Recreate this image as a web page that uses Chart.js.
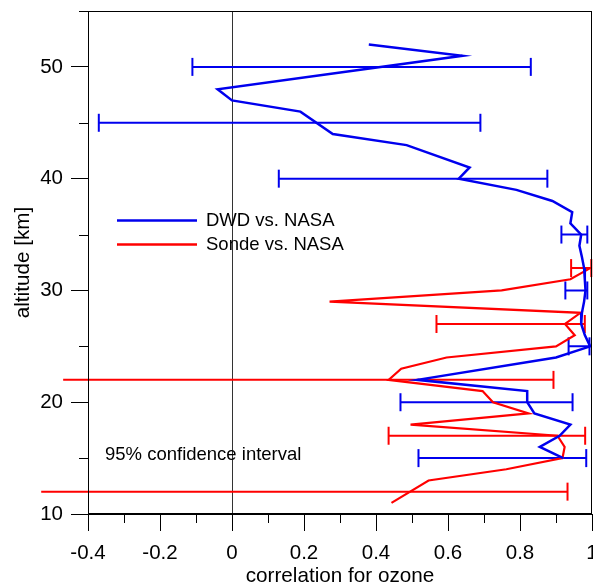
<!DOCTYPE html>
<html>
<head>
<meta charset="utf-8">
<script src="https://cdn.jsdelivr.net/npm/chart.js@4"></script>
<style>
  html, body { margin: 0; padding: 0; background: #fff; }
</style>
</head>
<body>
<canvas id="ozone" width="593" height="584"></canvas>
<script>
// DWD vs. NASA profile: altitude [km] and correlation
const dwdAlt  = [52, 51, 48, 47, 46, 44, 43, 41, 40, 39, 38, 37, 36, 35, 34, 33, 32, 31, 30, 29, 28, 27, 26, 25, 24, 22, 21, 20, 19, 18, 17, 16, 15];
const dwdCorr = [0.38, 0.64, -0.04, 0.0, 0.19, 0.28, 0.485, 0.66, 0.63, 0.79, 0.89, 0.945, 0.94, 0.97, 0.965, 0.972, 0.978, 0.98, 0.982, 0.978, 0.972, 0.97, 0.98, 0.995, 0.9, 0.515, 0.82, 0.82, 0.84, 0.94, 0.91, 0.855, 0.92];

// Sonde vs. NASA profile
const sondeAlt  = [11, 13, 14, 15, 16, 17, 18, 19, 20, 21, 22, 23, 24, 25, 26, 27, 28, 29, 30, 31, 32];
const sondeCorr = [0.443, 0.546, 0.762, 0.918, 0.924, 0.904, 0.496, 0.824, 0.725, 0.696, 0.435, 0.47, 0.596, 0.90, 0.952, 0.925, 0.968, 0.271, 0.749, 0.94, 0.995];

// 95% confidence intervals
const dwdErrAlt = [50, 45, 40, 35, 30, 25, 20, 15];
const dwdErrLo  = [-0.11, -0.37, 0.13, 0.915, 0.926, 0.935, 0.468, 0.518];
const dwdErrHi  = [0.83, 0.69, 0.876, 0.987, 0.987, 0.993, 0.946, 0.984];

const sondeErrAlt = [32, 27, 22, 17, 12];
const sondeErrLo  = [0.942, 0.568, -0.469, 0.435, -0.53];
const sondeErrHi  = [0.998, 0.98, 0.893, 0.981, 0.932];

const BLUE = '#0000ee';
const RED = '#ff0000';
const FONT = '"Liberation Sans", Arial, sans-serif';

function profile(alt, corr) {
  return alt.map((a, i) => ({ x: corr[i], y: a }));
}

// lo/hi pairs, broken apart by NaN points so each interval is its own segment
function intervals(alt, lo, hi) {
  const pts = [];
  alt.forEach((a, i) => {
    pts.push({ x: lo[i], y: a }, { x: hi[i], y: a }, { x: NaN, y: NaN });
  });
  return pts;
}

const isMajor = v => Math.round(v * 10) % 2 === 0;

const extras = {
  id: 'extras',
  afterDraw(chart) {
    const { ctx, chartArea: a, scales: { x, y } } = chart;
    ctx.save();
    ctx.strokeStyle = '#000';
    ctx.lineWidth = 1;
    ctx.strokeRect(a.left + 0.5, a.top + 0.5, a.right - a.left - 1, a.bottom - a.top - 1);

    // minor ticks
    ctx.beginPath();
    x.ticks.forEach(t => {
      if (isMajor(t.value)) return;
      const px = Math.round(x.getPixelForValue(t.value)) + 0.5;
      ctx.moveTo(px, a.bottom);
      ctx.lineTo(px, a.bottom + 9);
    });
    y.ticks.forEach(t => {
      if (t.value % 10 === 0) return;
      const py = Math.round(y.getPixelForValue(t.value)) + 0.5;
      ctx.moveTo(a.left - 9, py);
      ctx.lineTo(a.left, py);
    });
    ctx.stroke();

    // legend
    ctx.lineWidth = 2.5;
    ctx.strokeStyle = BLUE;
    ctx.beginPath();
    ctx.moveTo(117, 220.5); ctx.lineTo(197, 220.5);
    ctx.stroke();
    ctx.strokeStyle = RED;
    ctx.beginPath();
    ctx.moveTo(117, 244.5); ctx.lineTo(197, 244.5);
    ctx.stroke();

    ctx.fillStyle = '#000';
    ctx.font = '18.5px ' + FONT;
    ctx.textBaseline = 'middle';
    ctx.textAlign = 'left';
    ctx.fillText('DWD vs. NASA', 206, 221);
    ctx.fillText('Sonde vs. NASA', 206, 245);
    ctx.fillText('95% confidence interval', 105, 455);
    ctx.restore();
  }
};

new Chart(document.getElementById('ozone'), {
  type: 'scatter',
  data: {
    datasets: [{
      label: 'DWD vs. NASA',
      data: profile(dwdAlt, dwdCorr),
      showLine: true,
      borderColor: BLUE,
      borderWidth: 2.5,
      pointRadius: 0,
      clip: false
    }, {
      label: 'Sonde vs. NASA',
      data: profile(sondeAlt, sondeCorr),
      showLine: true,
      borderColor: RED,
      borderWidth: 2.2,
      pointRadius: 0,
      clip: false
    }, {
      label: 'DWD 95%',
      data: intervals(dwdErrAlt, dwdErrLo, dwdErrHi),
      showLine: true,
      spanGaps: false,
      borderColor: BLUE,
      borderWidth: 2,
      pointStyle: 'line',
      rotation: 90,
      pointRadius: 9,
      pointBorderWidth: 2,
      pointBorderColor: BLUE,
      clip: false
    }, {
      label: 'Sonde 95%',
      data: intervals(sondeErrAlt, sondeErrLo, sondeErrHi),
      showLine: true,
      spanGaps: false,
      borderColor: RED,
      borderWidth: 2,
      pointStyle: 'line',
      rotation: 90,
      pointRadius: 9,
      pointBorderWidth: 2,
      pointBorderColor: RED,
      clip: false
    }]
  },
  options: {
    responsive: false,
    animation: false,
    devicePixelRatio: 1,
    layout: { autoPadding: false, padding: { top: 11, right: 1, left: 0, bottom: 0 } },
    plugins: {
      legend: { display: false },
      tooltip: { enabled: false }
    },
    scales: {
      x: {
        type: 'linear',
        min: -0.4,
        max: 1,
        ticks: {
          stepSize: 0.1,
          autoSkip: false,
          maxRotation: 0,
          padding: 10,
          color: '#000',
          font: { family: FONT, size: 20.5 },
          callback: v => isMajor(v) ? String(+v.toFixed(1)) : ''
        },
        grid: {
          color: c => (c.tick && Math.abs(c.tick.value) < 1e-9) ? '#333' : 'rgba(0,0,0,0)',
          tickColor: c => (c.tick && isMajor(c.tick.value)) ? '#000' : 'rgba(0,0,0,0)',
          tickLength: 17
        },
        border: { display: true, color: '#000' },
        title: {
          display: true,
          text: 'correlation for ozone',
          color: '#000',
          font: { family: FONT, size: 20.7 },
          padding: { top: 0, bottom: -5 }
        },
        afterFit: s => { s.height = 70; s.paddingLeft = 0; s.paddingRight = 0; }
      },
      y: {
        type: 'linear',
        min: 10,
        max: 55,
        ticks: {
          stepSize: 5,
          autoSkip: false,
          padding: 8,
          color: '#000',
          font: { family: FONT, size: 20.5 },
          callback: v => v % 10 === 0 ? String(v) : ''
        },
        grid: {
          drawOnChartArea: false,
          tickColor: c => (c.tick && c.tick.value % 10 === 0) ? '#000' : 'rgba(0,0,0,0)',
          tickLength: 17
        },
        border: { display: true, color: '#000' },
        title: {
          display: true,
          text: 'altitude [km]',
          color: '#000',
          font: { family: FONT, size: 20.7 },
          padding: { top: 11, bottom: 0 }
        },
        afterFit: s => { s.width = 88; s.paddingTop = 0; s.paddingBottom = 0; }
      }
    }
  },
  plugins: [extras]
});
</script>
</body>
</html>
